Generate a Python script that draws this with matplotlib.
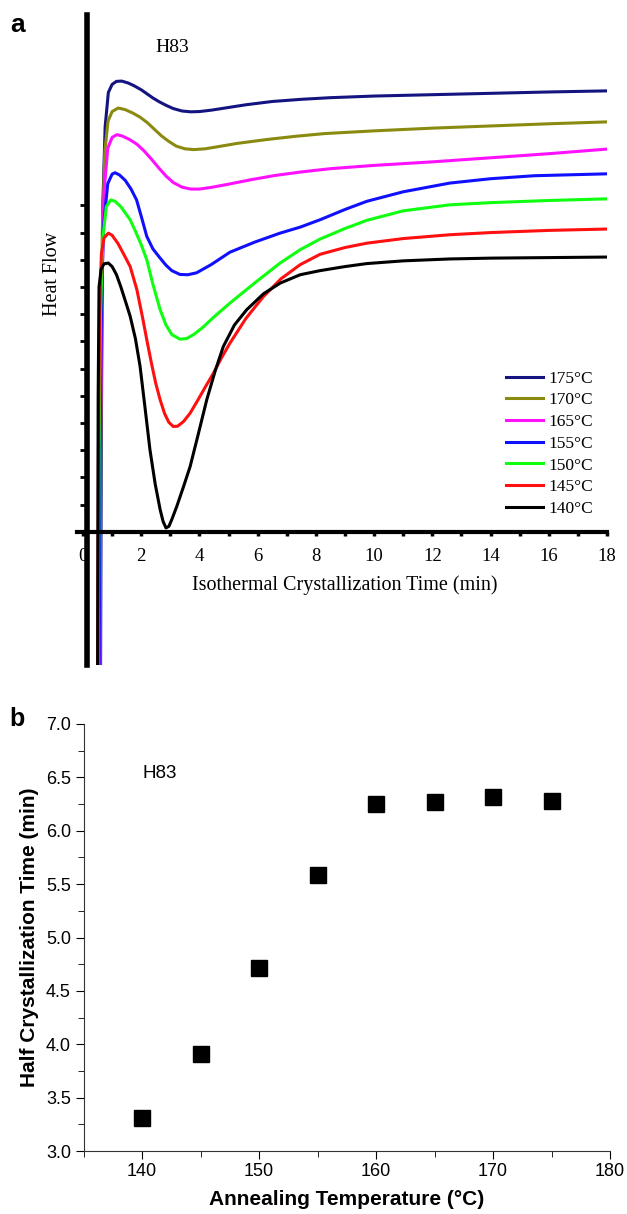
import matplotlib
matplotlib.use("Agg")
import matplotlib.pyplot as plt
from matplotlib.ticker import MultipleLocator, FormatStrFormatter

# ---- panel a: isothermal DSC curves (heat flow in arbitrary units) ----
t_175 = [0.60, 0.63, 0.68, 0.76, 0.87, 1.00, 1.15, 1.33, 1.55, 1.75, 2.00, 2.20, 2.40, 2.60,
         2.85, 3.10, 3.40, 3.70, 4.00, 4.40, 5.00, 5.60, 6.50, 7.50, 8.50, 10.0, 12.0, 14.0,
         16.0, 18.0]
h_175 = [-6.0, 4.0, 12.0, 14.9, 16.15, 16.45, 16.56, 16.57, 16.5, 16.4, 16.25, 16.1, 15.95,
         15.82, 15.68, 15.56, 15.47, 15.44, 15.45, 15.5, 15.6, 15.7, 15.82, 15.9, 15.96, 16.02,
         16.07, 16.12, 16.17, 16.21]

t_170 = [0.58, 0.61, 0.66, 0.75, 0.86, 1.00, 1.21, 1.45, 1.70, 1.95, 2.20, 2.45, 2.70, 2.95,
         3.20, 3.50, 3.80, 4.20, 4.70, 5.30, 6.30, 7.30, 8.30, 10.0, 12.0, 14.0, 16.0, 18.0]
h_170 = [-6.0, 4.0, 11.0, 14.0, 15.1, 15.45, 15.58, 15.52, 15.4, 15.25, 15.05, 14.8, 14.55,
         14.35, 14.18, 14.08, 14.05, 14.08, 14.17, 14.28, 14.42, 14.54, 14.64, 14.74, 14.84,
         14.92, 15.0, 15.07]

t_165 = [0.57, 0.60, 0.65, 0.72, 0.85, 1.00, 1.16, 1.35, 1.60, 1.85, 2.10, 2.35, 2.60, 2.85,
         3.10, 3.40, 3.70, 4.00, 4.40, 5.00, 5.80, 6.60, 7.50, 8.50, 10.0, 12.0, 14.0, 16.0, 18.0]
h_165 = [-6.0, 3.0, 9.0, 12.5, 14.1, 14.5, 14.6, 14.55, 14.42, 14.25, 14.0, 13.7, 13.38,
         13.08, 12.84, 12.67, 12.6, 12.6, 12.66, 12.78, 12.95, 13.1, 13.23, 13.35, 13.47, 13.6,
         13.75, 13.9, 14.07]

t_155 = [0.55, 0.58, 0.63, 0.70, 0.85, 1.00, 1.10, 1.25, 1.45, 1.65, 1.84, 2.00, 2.19, 2.40,
         2.65, 2.85, 3.05, 3.33, 3.60, 3.90, 4.40, 5.05, 5.90, 6.77, 7.46, 8.14, 9.00, 9.75,
         11.0, 12.6, 14.0, 15.5, 18.0]
h_155 = [-6.0, 3.0, 8.0, 11.2, 12.8, 13.15, 13.2, 13.12, 12.92, 12.6, 12.2, 11.6, 10.86, 10.4,
         10.06, 9.8, 9.6, 9.46, 9.45, 9.52, 9.82, 10.28, 10.65, 10.98, 11.2, 11.47, 11.85, 12.15,
         12.5, 12.82, 12.98, 13.09, 13.16]

t_150 = [0.52, 0.55, 0.60, 0.68, 0.80, 0.95, 1.10, 1.30, 1.50, 1.62, 1.80, 2.00, 2.19, 2.40,
         2.65, 2.85, 3.05, 3.33, 3.55, 3.80, 4.10, 4.50, 5.05, 5.90, 6.77, 7.46, 8.14, 9.00,
         9.75, 11.0, 12.6, 14.0, 16.0, 18.0]
h_150 = [-6.0, 3.0, 8.0, 10.8, 11.95, 12.2, 12.15, 11.95, 11.65, 11.47, 11.05, 10.55, 10.0,
         9.1, 8.16, 7.6, 7.25, 7.08, 7.1, 7.25, 7.5, 7.9, 8.41, 9.15, 9.88, 10.37, 10.76, 11.15,
         11.45, 11.8, 12.02, 12.1, 12.18, 12.24]

t_145 = [0.50, 0.53, 0.57, 0.63, 0.72, 0.87, 1.00, 1.20, 1.40, 1.62, 1.85, 2.05, 2.19, 2.35,
         2.50, 2.65, 2.80, 2.95, 3.10, 3.25, 3.45, 3.68, 3.95, 4.20, 4.48, 4.75, 5.05, 5.60,
         6.20, 6.80, 7.46, 8.14, 9.00, 9.75, 11.0, 12.6, 14.0, 16.0, 18.0]
h_145 = [-6.0, 3.0, 8.0, 10.2, 10.8, 10.98, 10.9, 10.6, 10.2, 9.75, 8.9, 7.85, 7.06, 6.2,
         5.45, 4.85, 4.35, 4.02, 3.87, 3.88, 4.05, 4.36, 4.85, 5.32, 5.83, 6.38, 6.94, 7.85,
         8.65, 9.3, 9.82, 10.2, 10.45, 10.61, 10.78, 10.92, 11.0, 11.08, 11.13]

t_140 = [0.50, 0.52, 0.55, 0.62, 0.72, 0.87, 1.00, 1.15, 1.30, 1.45, 1.62, 1.80, 1.96, 2.12,
         2.30, 2.48, 2.65, 2.75, 2.85, 2.95, 3.05, 3.22, 3.45, 3.68, 3.95, 4.25, 4.55, 4.82,
         5.20, 5.62, 6.20, 6.77, 7.46, 8.14, 9.00, 9.75, 11.0, 12.6, 14.0, 16.0, 18.0]
h_140 = [-6.0, 5.0, 9.0, 9.65, 9.85, 9.88, 9.75, 9.45, 9.0, 8.5, 7.92, 7.1, 6.08, 4.65, 3.01,
         1.75, 0.81, 0.38, 0.14, 0.2, 0.45, 0.93, 1.65, 2.40, 3.55, 4.85, 5.95, 6.81, 7.6, 8.16,
         8.75, 9.14, 9.45, 9.6, 9.75, 9.86, 9.96, 10.03, 10.06, 10.08, 10.10]

labels_a = ["175°C", "170°C", "165°C", "155°C", "150°C", "145°C", "140°C"]
colors_a = ["#141480", "#8a8a10", "#ff10ff", "#1010ff", "#10ff10", "#ff1010", "#000000"]

# ---- panel b: half crystallization time ----
anneal_temp = [140, 145, 150, 155, 160, 165, 170, 175]
half_time = [3.31, 3.91, 4.71, 5.59, 6.25, 6.27, 6.32, 6.28]

W, H = 627, 1214
fig = plt.figure(figsize=(W / 100, H / 100), dpi=100)

serif = "Liberation Serif"
sans = "Liberation Sans"

# panel a
axa = fig.add_axes([77.2 / W, 1 - 665 / H, (607 - 77.2) / W, 650 / H])
curves = [(t_175, h_175), (t_170, h_170), (t_165, h_165), (t_155, h_155),
          (t_150, h_150), (t_145, h_145), (t_140, h_140)]
for (t, h), c, lab in zip(curves, colors_a, labels_a):
    axa.plot(t, h, color=c, lw=2.2, label=lab, solid_joinstyle="round")
axa.set_xlim(-0.2, 18.0)
axa.set_ylim(-4.9, 19.0)
for s in ["top", "right"]:
    axa.spines[s].set_visible(False)
axa.spines["bottom"].set_position(("data", 0))
axa.spines["bottom"].set_linewidth(3)
axa.spines["left"].set_position(("data", 0.12))
axa.spines["left"].set_linewidth(4)
axa.xaxis.set_major_locator(MultipleLocator(2))
axa.xaxis.set_minor_locator(MultipleLocator(1))
axa.set_yticks(range(0, 13, 2))
axa.set_yticks(range(1, 13, 2), minor=True)
axa.tick_params(axis="x", which="both", direction="out", length=3, width=2.5, pad=9)
axa.tick_params(axis="y", which="both", direction="out", length=5, width=2, labelleft=False)
for lbl in axa.get_xticklabels():
    lbl.set_fontfamily(serif)
    lbl.set_fontsize(13.5)
axa.legend(loc="upper left", bbox_to_anchor=(0.81, 0.453), frameon=False,
           prop={"family": serif, "size": 12.5}, handlelength=2.1, handletextpad=0.3,
           labelspacing=0.32, borderaxespad=0, borderpad=0)
fig.text(52.5 / W, 1 - 274 / H, "Heat Flow", rotation=90, ha="center", va="center",
         family=serif, fontsize=14.5)
fig.text(345 / W, 1 - 585 / H, "Isothermal Crystallization Time (min)", ha="center",
         va="center", family=serif, fontsize=14.5)
fig.text(172 / W, 1 - 48 / H, "H83", ha="center", va="center", family=serif, fontsize=14)
fig.text(10 / W, 1 - 25 / H, "a", ha="left", va="center", family=sans, fontsize=19,
         fontweight="bold")

# panel b
axb = fig.add_axes([83.5 / W, 1 - 1151 / H, 526.5 / W, 427 / H])
axb.plot(anneal_temp, half_time, "s", color="black", markersize=11)
axb.set_xlim(135, 180)
axb.set_ylim(3.0, 7.0)
for s in ["top", "right"]:
    axb.spines[s].set_visible(False)
for s in ["left", "bottom"]:
    axb.spines[s].set_color("#333333")
axb.xaxis.set_major_locator(MultipleLocator(10))
axb.xaxis.set_minor_locator(MultipleLocator(5))
axb.yaxis.set_major_locator(MultipleLocator(0.5))
axb.yaxis.set_minor_locator(MultipleLocator(0.25))
axb.yaxis.set_major_formatter(FormatStrFormatter("%.1f"))
axb.tick_params(which="major", direction="out", length=6, labelsize=13, pad=3)
axb.tick_params(which="minor", direction="out", length=4)
for lbl in axb.get_xticklabels() + axb.get_yticklabels():
    lbl.set_fontfamily(sans)
axb.set_xlabel("Annealing Temperature (°C)", family=sans, fontsize=15,
               fontweight="bold", labelpad=7)
axb.set_ylabel("Half Crystallization Time (min)", family=sans, fontsize=15,
               fontweight="bold", labelpad=5)
axb.text(160 / W, 1 - 773 / H, "H83", transform=fig.transFigure, ha="center",
         va="center", family=sans, fontsize=13.5)
fig.text(9 / W, 1 - 719 / H, "b", ha="left", va="center", family=sans, fontsize=18,
         fontweight="bold")

plt.savefig("out.png", dpi=100)
